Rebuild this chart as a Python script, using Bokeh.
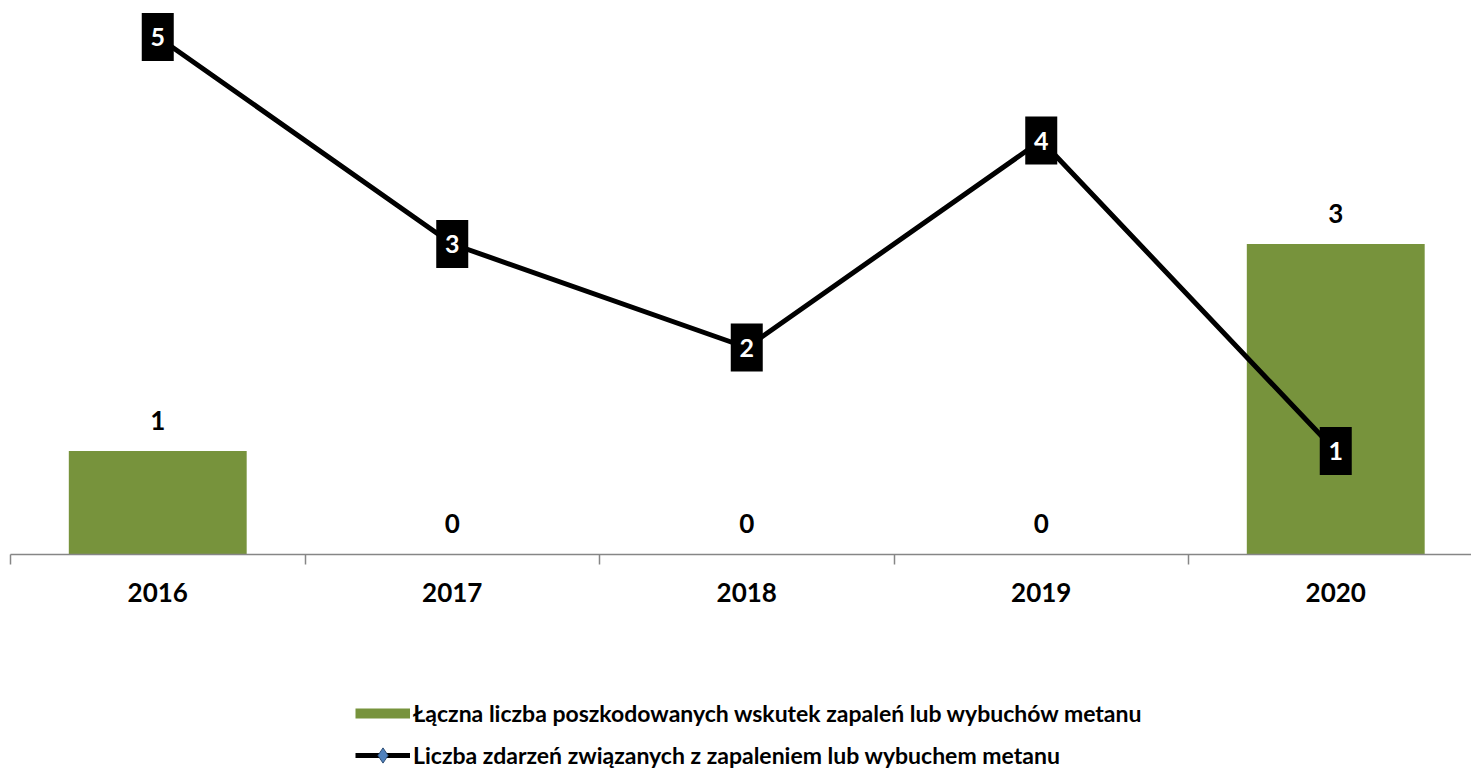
from bokeh.plotting import figure
from bokeh.layouts import column
from bokeh.models import ColumnDataSource, Range1d, LinearAxis, FixedTicker, Legend, LegendItem
from bokeh.core.properties import value
from bokeh.embed import file_html
from bokeh.resources import INLINE

# ---- data ----
years = ["2016", "2017", "2018", "2019", "2020"]
injured = [1, 0, 0, 0, 3]
events = [5, 3, 2, 4, 1]
bar_label = "Łączna liczba poszkodowanych wskutek zapaleń lub wybuchów metanu"
line_label = "Liczba zdarzeń związanych z zapaleniem lub wybuchem metanu"

FONT_NAME = "Lato"
FONT = value(FONT_NAME)
GREEN = "#77933C"
GRAY = "#868686"

xs = list(range(len(years)))
src = ColumnDataSource(dict(
    x=xs, injured=injured, events=events,
    inj_txt=[str(v) for v in injured],
    ev_txt=[str(v) for v in events],
))

W = 1471
H_MAIN = 640
H_LEG = 135
LEFT = 10
BOTTOM = 86
cat_px = 294.5
unit_px = 103.5
frame_w = W - LEFT
frame_h = H_MAIN - BOTTOM

p = figure(width=W, height=H_MAIN, output_backend="svg", toolbar_location=None,
           x_range=Range1d(-0.5, -0.5 + frame_w / cat_px),
           y_range=Range1d(0, frame_h / unit_px),
           x_axis_location=None, y_axis_location=None,
           min_border_left=LEFT, min_border_right=0, min_border_top=0,
           min_border_bottom=BOTTOM)
p.outline_line_color = None
p.xgrid.visible = False
p.ygrid.visible = False

# bars
p.vbar(x="x", top="injured", width=0.604, source=src,
       fill_color=GREEN, line_color=None)

# line
p.line(x="x", y="events", source=src, line_color="black", line_width=5)

# label boxes on line
p.rect(x="x", y="events", width=32, height=48, width_units="screen",
       height_units="screen", source=src, fill_color="black", line_color=None)
p.text(x="x", y="events", text="ev_txt", source=src, text_color="white",
       text_font=FONT, text_font_style="bold", text_font_size="25px",
       text_align="center", text_baseline="middle")

# bar labels
p.text(x="x", y="injured", text="inj_txt", source=src, text_color="black",
       text_font=FONT, text_font_style="bold", text_font_size="26px",
       text_align="center", text_baseline="alphabetic", y_offset=-31)

# axis
ax = LinearAxis(
    ticker=FixedTicker(ticks=xs, minor_ticks=[i - 0.5 for i in range(len(years) + 1)]),
    major_label_overrides={i: y for i, y in enumerate(years)},
    axis_line_color=GRAY, axis_line_width=1.5,
    major_tick_line_color=None,
    minor_tick_line_color=GRAY, minor_tick_line_width=1.5,
    minor_tick_in=0, minor_tick_out=10,
    major_label_text_font=FONT_NAME, major_label_text_font_style="bold",
    major_label_text_font_size="26px", major_label_text_color="black",
    major_label_standoff=18,
)
p.add_layout(ax, "below")

# ---- legend panel (separate figure below the chart) ----
q = figure(width=W, height=H_LEG, output_backend="svg", toolbar_location=None,
           x_range=Range1d(0, 1), y_range=Range1d(0, 1),
           x_axis_location=None, y_axis_location=None,
           min_border_left=0, min_border_right=0, min_border_top=0,
           min_border_bottom=0)
q.outline_line_color = None
q.xgrid.visible = False
q.ygrid.visible = False

# swatch renderers placed outside the visible range (legend only)
off = dict(x=[-5, -4], y=[-5, -5])
sw_bar = q.line(x=off["x"], y=off["y"], line_color=GREEN, line_width=10, line_cap="butt")
sw_line = q.line(x=off["x"], y=off["y"], line_color="black", line_width=5)
sw_dm = q.scatter(x=off["x"], y=off["y"], marker="diamond", size=15,
                  fill_color="#4F81BD", line_color="#2C4D75", line_width=1)

legend = Legend(
    items=[LegendItem(label=bar_label, renderers=[sw_bar]),
           LegendItem(label=line_label, renderers=[sw_line, sw_dm])],
    location=(345, 1), orientation="vertical",
    border_line_color=None, background_fill_alpha=0,
    padding=0, margin=0, spacing=4,
    glyph_width=55, glyph_height=38, label_height=24, label_standoff=3,
    label_text_font=FONT_NAME, label_text_font_style="bold",
    label_text_font_size="23px", label_text_color="black",
)
q.add_layout(legend, "center")

open("out.html", "w").write(file_html(column(p, q, spacing=0), INLINE))
